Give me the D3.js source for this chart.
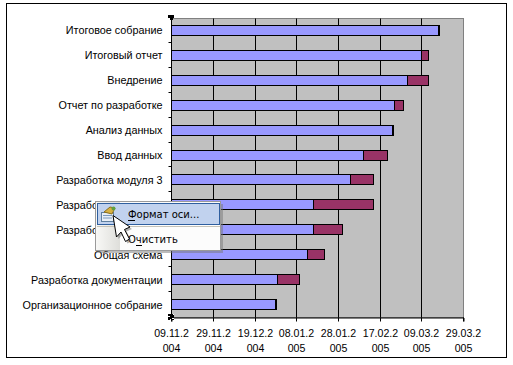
<!DOCTYPE html>
<html><head><meta charset="utf-8">
<script src="https://cdnjs.cloudflare.com/ajax/libs/d3/7.8.5/d3.min.js"></script>
<style>html,body{margin:0;padding:0;background:#fff}svg{display:block}text{font-family:"Liberation Sans",Arial,sans-serif;fill:#000}</style>
</head><body>
<svg id="c" width="513" height="365"></svg>
<script>
const categories = ["Итоговое собрание","Итоговый отчет","Внедрение","Отчет по разработке","Анализ данных","Ввод данных","Разработка модуля 3","Разработка модуля 2","Разработка модуля 1","Общая схема","Разработка документации","Организационное собрание"];
const doneDays = [128,120,113,107,106,92,86,68,68,65,51,50];
const leftDays = [0,3,10,4,0,11.5,11,29,14,8.5,10.5,0];
const tickDates = ["2004-11-09","2004-11-29","2004-12-19","2005-01-08","2005-01-28","2005-02-17","2005-03-09","2005-03-29"];
const tickLine1 = ["09.11.2","29.11.2","19.12.2","08.01.2","28.01.2","17.02.2","09.03.2","29.03.2"];
const tickLine2 = ["004","004","004","005","005","005","005","005"];
const menuItems = ["Формат оси...","Очистить"];

const svg = d3.select("#c");
const L=171.5,R=463.5,T=18.5,B=317.5;
const dates = tickDates.map(d=>new Date(d+"T00:00:00Z"));
const x = d3.scaleUtc().domain([dates[0],dates[dates.length-1]]).range([L,R]);
const snap = d => Math.floor(x(d)+.1)+.5;
const day = 864e5, t0 = +dates[0];
const xd = n => x(new Date(t0+n*day));
const y = d3.scaleBand().domain(categories).range([17.6,316.4]);
const yText = d3.scaleBand().domain(categories).range([18,318]);

// frame
svg.append("rect").attr("x",6.5).attr("y",3.5).attr("width",500).attr("height",354).attr("fill","#fff").attr("stroke","#000");
// plot area
svg.append("rect").attr("x",L).attr("y",T).attr("width",R-L).attr("height",B-T).attr("fill","#c0c0c0").attr("stroke","#808080");
// gridlines
svg.append("g").selectAll("line").data(dates.slice(1,-1)).join("line")
 .attr("x1",snap).attr("x2",snap).attr("y1",T).attr("y2",B).attr("stroke","#000");
// bars
const barH=10;
const rows=svg.append("g").attr("shape-rendering","crispEdges").selectAll("g").data(categories).join("g")
 .attr("transform",d=>`translate(0,${Math.round(y(d)+y.bandwidth()/2-barH/2)+.5})`);
rows.append("rect").attr("x",L).attr("width",(d,i)=>xd(doneDays[i])-L).attr("height",barH).attr("fill","#9999ff").attr("stroke","#000");
rows.append("rect").attr("x",(d,i)=>xd(doneDays[i])).attr("width",(d,i)=>Math.max(xd(doneDays[i]+leftDays[i])-xd(doneDays[i]),1)).attr("height",barH).attr("fill","#993366").attr("stroke","#000");
// y axis
const gy=svg.append("g");
gy.append("line").attr("x1",L).attr("x2",L).attr("y1",T).attr("y2",B).attr("stroke","#000");
gy.selectAll("line.t").data(d3.range(categories.length+1)).join("line").attr("class","t")
 .attr("x1",L-3).attr("x2",L).attr("y1",i=>Math.floor(17.6+i*y.step())+.5).attr("y2",i=>Math.floor(17.6+i*y.step())+.5).attr("stroke","#000");
gy.selectAll("text").data(categories).join("text").attr("x",162.5).attr("y",d=>yText(d)+yText.bandwidth()/2+3)
 .attr("text-anchor","end").attr("font-size",10.8).text(d=>d);
// x axis
const gx=svg.append("g").attr("transform",`translate(0,${B})`)
 .call(d3.axisBottom(x).tickValues(dates).tickSize(4).tickFormat(""));
gx.select(".domain").attr("stroke","#000");
gx.selectAll(".tick").attr("transform",d=>`translate(${snap(d)},0)`).each(function(d,i){
  const g=d3.select(this);
  g.append("text").attr("y",19.5).attr("text-anchor","middle").attr("font-size",10.6).text(tickLine1[i]);
  g.append("text").attr("y",34).attr("text-anchor","middle").attr("font-size",10.6).text(tickLine2[i]);
});
// selection handles
svg.append("path").attr("d","M168 15h6v3h-1v2h-3v-2h-2z").attr("fill","#000");
svg.append("rect").attr("x",168).attr("y",314).attr("width",6).attr("height",6).attr("fill","#000");
svg.append("path").attr("d","M168 316h2v1h-2zM172 318h2v1h-2zM170 319h1v1h-1zM173 314h1v1h-1z").attr("fill","#fff");

// context menu
const m=svg.append("g");
m.append("rect").attr("x",97).attr("y",204).attr("width",126).attr("height",49).attr("fill","#777").attr("opacity",.5);
m.append("rect").attr("x",95.5).attr("y",201.5).attr("width",125).attr("height",49).attr("fill","#fcfcfc").attr("stroke","#9a9a9a");
const gr=svg.append("defs").append("linearGradient").attr("id","g");
gr.append("stop").attr("offset",0).attr("stop-color","#f8f8f6");
gr.append("stop").attr("offset",1).attr("stop-color","#dededa");
m.append("rect").attr("x",96).attr("y",202).attr("width",24).attr("height",48).attr("fill","url(#g)");
m.append("rect").attr("x",97.5).attr("y",203.5).attr("width",122).attr("height",21).attr("fill","#c1d2ee").attr("stroke","#2f5f9f");
m.append("line").attr("x1",97).attr("x2",220).attr("y1",226.5).attr("y2",226.5).attr("stroke","#c5c2b8");
const mf='"DejaVu Sans",Verdana,sans-serif';
m.append("text").attr("x",128).attr("y",218).attr("font-size",10).style("font-family",mf).text(menuItems[0]);
m.append("text").attr("x",128).attr("y",243).attr("font-size",10).style("font-family",mf).text(menuItems[1]);
m.append("line").attr("x1",128).attr("x2",135).attr("y1",220.5).attr("y2",220.5).attr("stroke","#000");
m.append("line").attr("x1",136).attr("x2",142).attr("y1",245.5).attr("y2",245.5).attr("stroke","#000");
// icon
m.append("rect").attr("x",101.5).attr("y",212.5).attr("width",12).attr("height",9).attr("fill","#e8eef6").attr("stroke","#5f7f9f");
m.append("path").attr("d","M103 215.5h9M103 218h9").attr("stroke","#7a9ac0");
m.append("path").attr("d","M104 212L110 207L115 208L112 214Z").attr("fill","#d8b040").attr("stroke","#8a7020");
m.append("circle").attr("cx",113.5).attr("cy",208.5).attr("r",2).attr("fill","#60a040");
// cursor
const arrow="M113 215.5L116.5 237L121 232L125.5 241.5L129.5 239L124.5 229.5L130 227Z";
m.append("path").attr("d",arrow).attr("transform","translate(2,2)").attr("fill","#555").attr("opacity",.45);
m.append("path").attr("d",arrow).attr("fill","#fff").attr("stroke","#000");
</script>
</body></html>
